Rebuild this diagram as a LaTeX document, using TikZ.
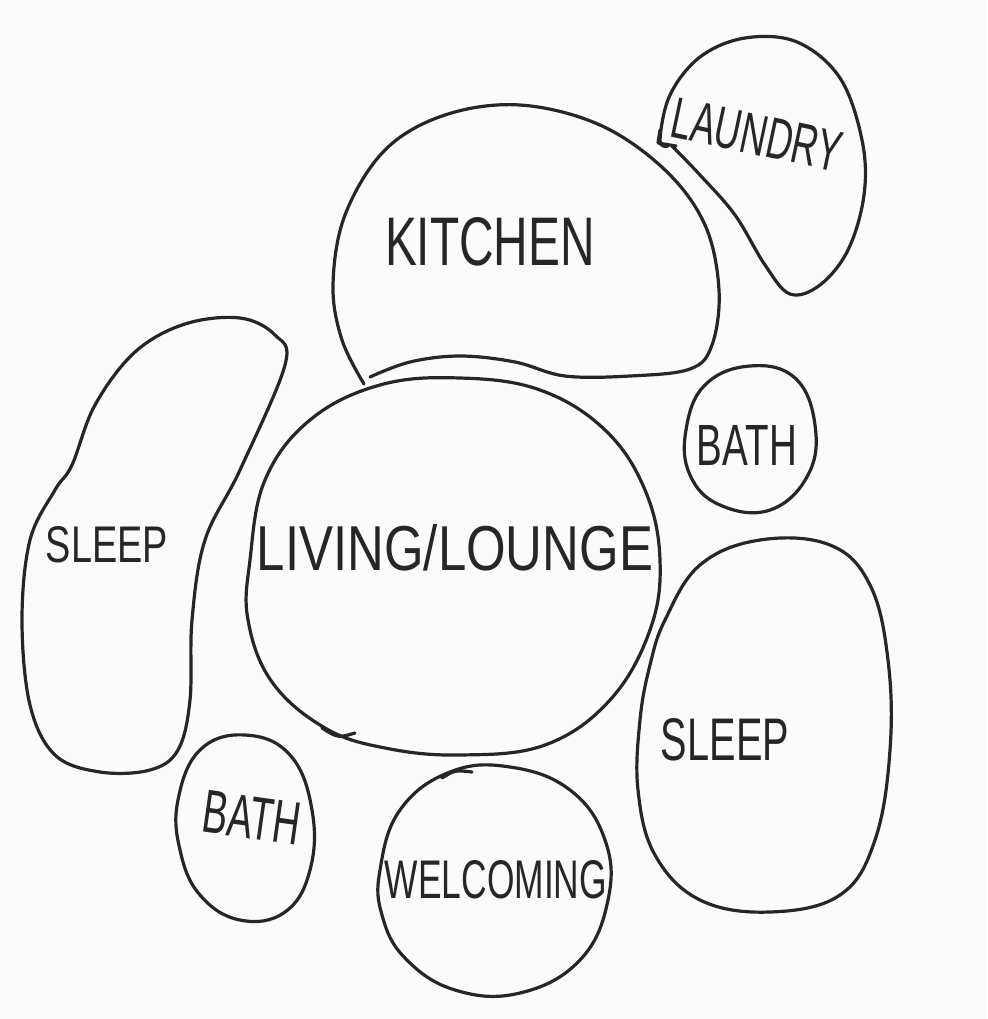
\documentclass[tikz,border=0pt]{standalone}
\usepackage{fontspec}
\setmainfont{Liberation Sans}
\usepackage{graphicx}
\definecolor{ink}{HTML}{262626}
\definecolor{paper}{HTML}{FBFBFB}
\newcommand{\hand}[3]{\resizebox{#1pt}{#2pt}{#3}}
\begin{document}
\begin{tikzpicture}[x=1pt,y=-1pt,
  bubble/.style={line width=3.2pt, draw=ink, line join=round, line cap=round},
  lbl/.style={text=ink, inner sep=0pt}]
\useasboundingbox (0,0) rectangle (987,1019);
\fill[paper] (0,0) rectangle (987,1019);
% kitchen (open stroke, ends cross at lower left)
\draw[bubble] plot[smooth, tension=0.6] coordinates {(370,377) (410,362) (460,356) (515,362) (565,376) (630,376) (690,369) (712,345) (719,290) (705,225) (665,170) (600,125) (520,105) (445,115) (385,150) (345,215) (333,285) (342,340) (364,384)};
% laundry
\draw[bubble] plot[smooth, tension=0.6] coordinates {(672,146) (700,175) (735,215) (765,265) (790,294) (820,285) (848,250) (864,195) (862,140) (840,78) (797,42) (745,38) (700,57) (670,95) (660,140) (668,146)};
\draw[bubble] (660,130) -- (658,143) -- (676,146);
% bath top
\draw[bubble] plot[smooth cycle, tension=0.7] coordinates {(686,430) (705,385) (750,366) (795,378) (815,425) (808,475) (770,510) (720,505) (690,475)};
% sleep left
\draw[bubble] plot[smooth cycle, tension=0.6] coordinates {(285,365) (240,470) (205,540) (192,620) (190,700) (178,750) (150,770) (100,772) (55,755) (30,705) (22,620) (30,540) (55,490) (72,465) (95,405) (135,352) (185,324) (240,318) (275,335)};
% living
\draw[bubble] plot[smooth cycle, tension=0.65] coordinates {(250,560) (265,480) (310,420) (380,385) (460,378) (540,390) (605,430) (645,490) (660,560) (650,630) (610,700) (545,745) (460,755) (385,748) (325,728) (272,682) (248,620)};
\draw[bubble] (322,728) .. controls (338,738) .. (355,733);
% sleep right
\draw[bubble] plot[smooth cycle, tension=0.65] coordinates {(665,620) (700,565) (760,540) (830,545) (870,585) (888,660) (890,750) (875,840) (840,895) (770,912) (700,900) (655,855) (638,790) (640,720) (650,665)};
% bath bottom
\draw[bubble] plot[smooth cycle, tension=0.7] coordinates {(178,800) (200,750) (245,735) (290,755) (312,810) (310,870) (285,912) (240,920) (200,895) (180,850)};
% welcoming
\draw[bubble] plot[smooth cycle, tension=0.7] coordinates {(380,870) (400,810) (450,772) (510,767) (570,790) (605,840) (608,900) (580,960) (520,993) (455,990) (405,958) (382,915)};
\draw[bubble] (442,778) .. controls (455,770) .. (472,772);
% labels
\node[lbl] (kitchen) at (490,242) {\hand{210}{48}{KITCHEN}};
\node[lbl, rotate=-12] (laundry) at (757,135) {\hand{172}{40}{LAUNDRY}};
\node[lbl] (bathA) at (747,445) {\hand{100}{40}{BATH}};
\node[lbl] (sleepA) at (107,545) {\hand{122}{36}{SLEEP}};
\node[lbl] (living) at (455,548) {\hand{396}{46}{LIVING/LOUNGE}};
\node[lbl] (sleepB) at (725,740) {\hand{128}{42}{SLEEP}};
\node[lbl, rotate=-8] (bathB) at (252,818) {\hand{98}{42}{BATH}};
\node[lbl] (welcoming) at (496,880) {\hand{222}{38}{WELCOMING}};
\end{tikzpicture}
\end{document}
